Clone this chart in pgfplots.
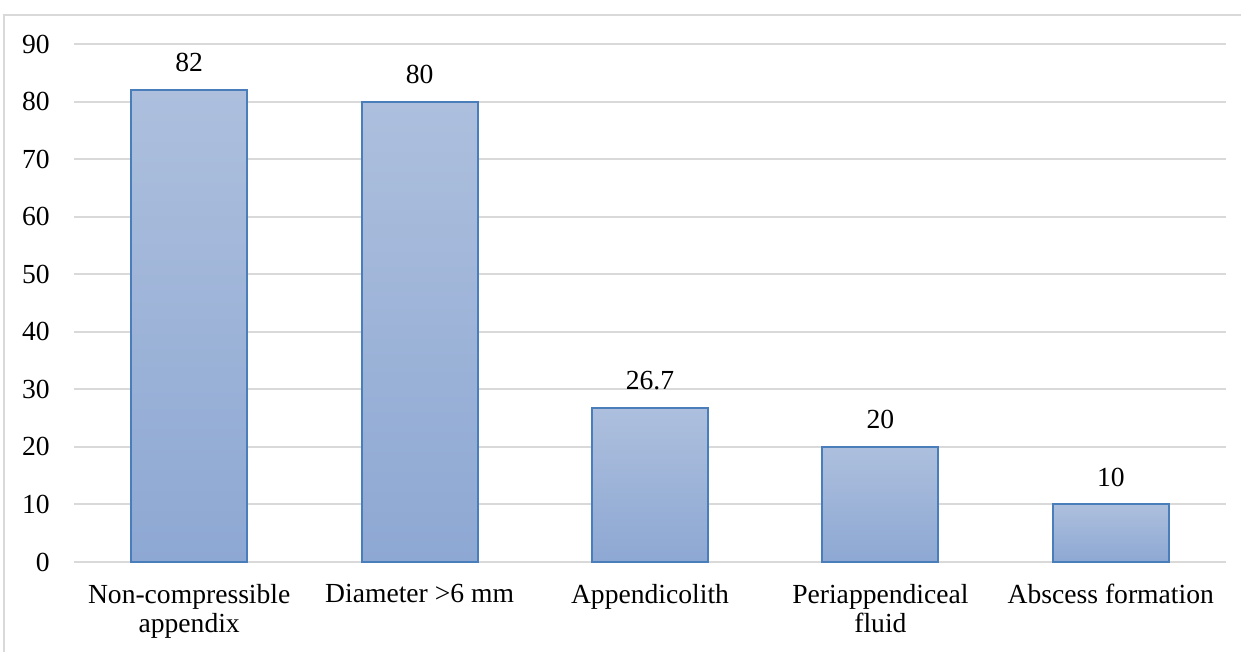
\documentclass[border=0pt]{standalone}
\usepackage{pgfplots}
\pgfplotsset{compat=1.18}
\usepackage{fontspec}
\setmainfont{Liberation Serif}
\definecolor{gridc}{HTML}{D9D9D9}
\definecolor{barborder}{HTML}{4A7EBB}
\definecolor{bartop}{HTML}{ADBFDD}
\definecolor{barbot}{HTML}{8DA8D3}
\newcommand{\lf}{\fontsize{13.8pt}{14.5pt}\selectfont}
\tikzset{mybar/.style={ybar, bar width=58pt, bar shift=0pt, draw=barborder, line width=1pt, top color=bartop, bottom color=barbot}}
\begin{document}
\begin{tikzpicture}
\useasboundingbox (0,0) rectangle (620.5pt,326pt);
\begin{scope}
\clip (0,0) rectangle (620.5pt,326pt);
\draw[gridc, line width=1pt] (2pt,-5pt) -- (2pt,318.5pt) -- (630pt,318.5pt);
\end{scope}
\begin{axis}[
  at={(37pt,45pt)}, anchor=south west,
  scale only axis, width=576pt, height=259pt,
  xmin=-0.5, xmax=4.5, ymin=0, ymax=90,
  ytick={0,10,...,90},
  xtick={0,1,2,3,4},
  xticklabels={Non-compressible\\appendix, Diameter >6 mm, Appendicolith, Periappendiceal\\fluid, Abscess formation},
  axis x line*=bottom, axis y line*=left,
  x axis line style={gridc, line width=1pt, -},
  y axis line style={draw=none},
  major tick length=0pt,
  ymajorgrids, grid style={gridc, line width=1pt},
  /pgf/number format/assume math mode=true,
  ticklabel style={font=\lf},
  yticklabel style={anchor=east, inner sep=0pt, xshift=-12pt},
  xticklabel style={anchor=north, inner sep=0pt, yshift=-11pt, align=center},
  nodes near coords, nodes near coords style={font=\lf, anchor=south, inner sep=0pt, yshift=8.5pt, black},
  clip=false,
]
\addplot[mybar] coordinates {(0,82)};
\addplot[mybar] coordinates {(1,80)};
\addplot[mybar] coordinates {(2,26.7)};
\addplot[mybar] coordinates {(3,20)};
\addplot[mybar] coordinates {(4,10)};
\end{axis}
\end{tikzpicture}
\end{document}
